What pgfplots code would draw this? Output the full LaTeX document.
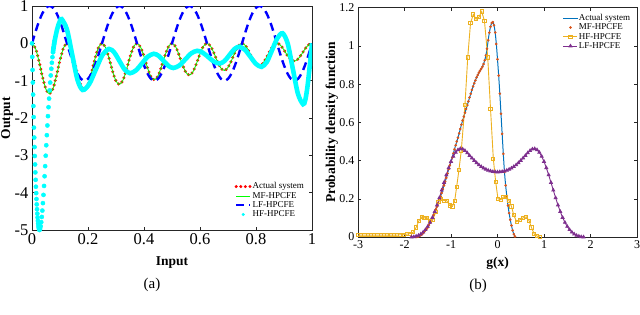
\documentclass[border=0pt]{standalone}
\usepackage{fontspec}
\setmainfont{Liberation Serif}
\usepackage{pgfplots}
\usepackage{pgfplotstable}
\pgfplotsset{compat=1.18}
\definecolor{mblue}{rgb}{0,0.447,0.741}
\definecolor{morange}{rgb}{0.85,0.325,0.098}
\definecolor{myellow}{rgb}{0.929,0.694,0.125}
\definecolor{mpurple}{rgb}{0.494,0.184,0.556}
\definecolor{axgray}{rgb}{0.15,0.15,0.15}
\definecolor{mcyan}{rgb}{0,1,1}
\definecolor{mgreen}{rgb}{0,1,0}
\definecolor{mred}{rgb}{1,0,0}
\definecolor{mbl}{rgb}{0,0,1}

\pgfplotstableread{
x act lf
0 0 0
0.0125 -0.1339 0.3090
0.025 -0.4800 0.5878
0.0375 -0.9011 0.8090
0.05 -1.2339 0.9511
0.0625 -1.3517 1
0.075 -1.2113 0.9511
0.0875 -0.8684 0.8090
0.1 -0.4540 0.5878
0.1125 -0.1243 0.3090
0.125 0 0
0.1375 -0.1219 -0.3090
0.15 -0.4368 -0.5878
0.1625 -0.8193 -0.8090
0.175 -1.1209 -0.9511
0.1875 -1.2267 -1
0.2 -1.0983 -0.9511
0.2125 -0.7865 -0.8090
0.225 -0.4109 -0.5878
0.2375 -0.1124 -0.3090
0.25 0 0
0.2625 -0.1100 0.3090
0.275 -0.3936 0.5878
0.2875 -0.7374 0.8090
0.3 -1.0078 0.9511
0.3125 -1.1017 1
0.325 -0.9852 0.9511
0.3375 -0.7047 0.8090
0.35 -0.3677 0.5878
0.3625 -0.1004 0.3090
0.375 0 0
0.3875 -0.0980 -0.3090
0.4 -0.3504 -0.5878
0.4125 -0.6556 -0.8090
0.425 -0.8948 -0.9511
0.4375 -0.9767 -1
0.45 -0.8721 -0.9511
0.4625 -0.6229 -0.8090
0.475 -0.3245 -0.5878
0.4875 -0.0885 -0.3090
0.5 0 0
0.5125 -0.0861 0.3090
0.525 -0.3072 0.5878
0.5375 -0.5738 0.8090
0.55 -0.7817 0.9511
0.5625 -0.8517 1
0.575 -0.7591 0.9511
0.5875 -0.5411 0.8090
0.6 -0.2813 0.5878
0.6125 -0.0766 0.3090
0.625 0 0
0.6375 -0.0742 -0.3090
0.65 -0.2640 -0.5878
0.6625 -0.4920 -0.8090
0.675 -0.6686 -0.9511
0.6875 -0.7267 -1
0.7 -0.6460 -0.9511
0.7125 -0.4593 -0.8090
0.725 -0.2381 -0.5878
0.7375 -0.0646 -0.3090
0.75 0 0
0.7625 -0.0622 0.3090
0.775 -0.2208 0.5878
0.7875 -0.4102 0.8090
0.8 -0.5556 0.9511
0.8125 -0.6017 1
0.825 -0.5329 0.9511
0.8375 -0.3775 0.8090
0.85 -0.1949 0.5878
0.8625 -0.0527 0.3090
0.875 0 0
0.8875 -0.0503 -0.3090
0.9 -0.1777 -0.5878
0.9125 -0.3284 -0.8090
0.925 -0.4425 -0.9511
0.9375 -0.4767 -1
0.95 -0.4199 -0.9511
0.9625 -0.2956 -0.8090
0.975 -0.1517 -0.5878
0.9875 -0.0407 -0.3090
1 0 0
}\lefttab

\pgfplotstableread{
x y
0 0
0.001 -0.364
0.002 -0.713
0.003 -1.049
0.004 -1.372
0.005 -1.680
0.006 -1.975
0.007 -2.257
0.008 -2.524
0.009 -2.778
0.010 -3.018
0.011 -3.244
0.012 -3.457
0.013 -3.656
0.014 -3.841
0.015 -4.012
0.016 -4.170
0.017 -4.314
0.018 -4.444
0.019 -4.561
0.020 -4.664
0.021 -4.753
0.022 -4.829
0.023 -4.890
0.024 -4.938
0.025 -4.973
0.026 -4.993
0.027 -5.000
0.029 -4.97
0.031 -4.90
0.033 -4.79
0.035 -4.65
0.037 -4.48
0.039 -4.28
0.041 -4.06
0.043 -3.82
0.045 -3.56
0.047 -3.29
0.049 -3.01
0.051 -2.73
0.053 -2.46
0.055 -2.20
0.057 -1.95
0.059 -1.71
0.061 -1.48
0.063 -1.26
0.065 -1.05
0.067 -0.86
0.069 -0.68
0.071 -0.52
0.073 -0.37
0.075 -0.24
0.077 -0.12
0.079 -0.02
0.081 0.07
}\hfdots

\pgfplotstableread{
x y
0.075 -0.24
0.079 -0.02
0.085 0.22
0.090 0.38
0.095 0.51
0.100 0.60
0.106 0.65
0.1248 0.372
0.1435 -0.300
0.1623 -0.972
0.181 -1.25
0.2045 -1.089
0.228 -0.70
0.2515 -0.311
0.275 -0.15
0.2938 -0.245
0.3125 -0.475
0.3313 -0.705
0.35 -0.80
0.3713 -0.724
0.3925 -0.54
0.4138 -0.356
0.435 -0.28
0.4525 -0.336
0.47 -0.47
0.4875 -0.604
0.505 -0.66
0.5263 -0.593
0.5475 -0.43
0.5688 -0.267
0.59 -0.20
0.61 -0.250
0.63 -0.37
0.65 -0.490
0.67 -0.54
0.6875 -0.474
0.705 -0.315
0.7225 -0.156
0.74 -0.09
0.76 -0.169
0.78 -0.36
0.80 -0.551
0.82 -0.63
0.8388 -0.498
0.8575 -0.18
0.8763 0.138
0.895 0.27
0.9133 -0.008
0.9315 -0.68
0.9498 -1.352
0.968 -1.63
0.976 -1.52
0.984 -1.15
0.992 -0.6
1.0 0.0
}\hfline

\pgfplotstableread{
x y
-1.750 0.000
-1.725 0.001
-1.700 0.003
-1.675 0.006
-1.650 0.010
-1.625 0.015
-1.600 0.020
-1.575 0.027
-1.550 0.035
-1.525 0.042
-1.500 0.050
-1.475 0.062
-1.450 0.075
-1.425 0.087
-1.400 0.100
-1.375 0.115
-1.350 0.130
-1.325 0.145
-1.300 0.160
-1.275 0.177
-1.250 0.195
-1.225 0.212
-1.200 0.230
-1.175 0.250
-1.150 0.270
-1.125 0.290
-1.100 0.310
-1.075 0.332
-1.050 0.355
-1.025 0.375
-1.000 0.395
-0.975 0.416
-0.950 0.438
-0.925 0.459
-0.900 0.480
-0.875 0.500
-0.850 0.520
-0.825 0.542
-0.800 0.565
-0.775 0.588
-0.750 0.610
-0.725 0.630
-0.700 0.650
-0.675 0.670
-0.650 0.690
-0.625 0.710
-0.600 0.730
-0.575 0.750
-0.550 0.770
-0.525 0.788
-0.500 0.805
-0.475 0.820
-0.450 0.835
-0.425 0.848
-0.400 0.860
-0.375 0.870
-0.350 0.880
-0.325 0.891
-0.300 0.905
-0.275 0.925
-0.250 0.950
-0.225 0.985
-0.200 1.030
-0.175 1.070
-0.150 1.100
-0.125 1.120
-0.100 1.125
-0.075 1.108
-0.050 1.070
-0.025 1.010
0.000 0.930
0.025 0.845
0.050 0.750
0.075 0.645
0.100 0.540
0.125 0.435
0.150 0.340
0.175 0.270
0.200 0.215
0.225 0.165
0.250 0.125
0.275 0.090
0.300 0.060
0.325 0.035
0.350 0.015
0.375 0.003
}\acttab

\pgfplotstableread{
x y
-3.00 0.01
-2.93 0.01
-2.86 0.01
-2.79 0.01
-2.72 0.01
-2.65 0.01
-2.58 0.01
-2.51 0.01
-2.44 0.01
-2.37 0.01
-2.30 0.01
-2.23 0.01
-2.16 0.01
-2.09 0.012
-2.02 0.012
-1.95 0.015
-1.88 0.018
-1.81 0.025
-1.75 0.05
-1.69 0.085
-1.63 0.105
-1.57 0.10
-1.51 0.10
-1.45 0.085
-1.39 0.09
-1.33 0.13
-1.27 0.185
-1.21 0.20
-1.15 0.19
-1.09 0.19
-1.03 0.165
-0.97 0.16
-0.92 0.19
-0.88 0.26
-0.83 0.35
-0.78 0.45
-0.70 0.69
-0.64 0.94
-0.58 1.12
-0.52 1.165
-0.46 1.14
-0.40 1.15
-0.34 1.18
-0.28 1.13
-0.21 0.94
-0.15 0.67
-0.09 0.41
-0.04 0.29
0.01 0.20
0.07 0.195
0.13 0.21
0.19 0.21
0.25 0.19
0.30 0.16
0.35 0.115
0.41 0.08
0.48 0.09
0.55 0.10
0.62 0.105
0.68 0.085
0.73 0.05
0.79 0.015
0.85 0.005
0.91 0.0
}\hftab

\pgfplotstableread{
x y
-1.85 0.000
-1.80 0.001
-1.75 0.004
-1.70 0.008
-1.65 0.015
-1.60 0.025
-1.55 0.038
-1.50 0.055
-1.45 0.076
-1.40 0.102
-1.35 0.133
-1.30 0.167
-1.25 0.205
-1.20 0.245
-1.15 0.285
-1.10 0.325
-1.05 0.362
-1.00 0.395
-0.95 0.422
-0.90 0.443
-0.85 0.456
-0.80 0.462
-0.75 0.460
-0.70 0.452
-0.65 0.440
-0.60 0.426
-0.55 0.413
-0.50 0.400
-0.45 0.388
-0.40 0.377
-0.35 0.368
-0.30 0.360
-0.25 0.354
-0.20 0.349
-0.15 0.345
-0.10 0.342
-0.05 0.341
0.00 0.340
0.05 0.341
0.10 0.342
0.15 0.345
0.20 0.349
0.25 0.354
0.30 0.360
0.35 0.368
0.40 0.377
0.45 0.388
0.50 0.400
0.55 0.413
0.60 0.426
0.65 0.440
0.70 0.452
0.75 0.460
0.80 0.462
0.85 0.456
0.90 0.443
0.95 0.422
1.00 0.395
1.05 0.362
1.10 0.325
1.15 0.285
1.20 0.245
1.25 0.205
1.30 0.167
1.35 0.133
1.40 0.102
1.45 0.076
1.50 0.055
1.55 0.038
1.60 0.025
1.65 0.015
1.70 0.008
1.75 0.004
1.80 0.001
1.85 0.000
}\lftab

\pgfplotsset{
  matlab/.style={
    scale only axis,
    axis line style={axgray, line width=0.5pt},
    every tick/.style={axgray, line width=0.5pt},
    tick align=inside,
    major tick length=3pt,
    /pgf/number format/assume math mode=true,
    legend cell align=left,
    legend image code/.code={\draw[mark repeat=2,mark phase=2,##1] plot coordinates {(0pt,0pt) (7pt,0pt) (14pt,0pt)};},
  }
}

\begin{document}
\begin{tikzpicture}
\useasboundingbox (0pt,0pt) rectangle (640pt,314pt);

\begin{axis}[matlab,
  at={(32pt,84pt)}, anchor=south west,
  width=280pt, height=224pt,
  xmin=0, xmax=1, ymin=-5, ymax=1,
  xtick={0,0.2,0.4,0.6,0.8,1}, ytick={-5,-4,-3,-2,-1,0,1},
  tick label style={font=\fontsize{16.5}{16.5}\selectfont},
  xlabel={\textbf{Input}}, ylabel={\textbf{Output}},
  label style={font=\fontsize{13.5}{14}\selectfont},
  xlabel style={at={(axis description cs:0.5,-0.143)}, anchor=center},
  ylabel style={at={(axis description cs:-0.089,0.5)}, anchor=center},
  legend style={at={(0.986,0.225)}, anchor=north east, draw=none, fill=none,
    font=\fontsize{9}{10}\selectfont, nodes={inner sep=0.9pt}},
]
\addplot[mred, line width=3.3pt, line cap=round, dash pattern=on 0pt off 4.6pt, smooth] table[x=x,y=act] {\lefttab};
\addlegendentry{Actual system}
\addplot[mgreen, line width=0.8pt, smooth] table[x=x,y=act] {\lefttab};
\addlegendentry{MF-HPCFE}
\addplot[mbl, line width=2.4pt, dash pattern=on 8pt off 5pt, smooth] table[x=x,y=lf] {\lefttab};
\addlegendentry{LF-HPCFE}
\addplot[mcyan, only marks, mark=*, mark size=2.1pt, legend image post style={mark size=1.4pt}] table {\hfdots};
\addlegendentry{HF-HPCFE}
\addplot[mcyan, line width=4.6pt, smooth, forget plot] table {\hfline};
\end{axis}

\begin{axis}[matlab,
  at={(358pt,77pt)}, anchor=south west,
  width=279pt, height=229.3pt,
  xmin=-3, xmax=3, ymin=0, ymax=1.2,
  xtick={-3,-2,-1,0,1,2,3}, ytick={0,0.2,0.4,0.6,0.8,1,1.2},
  tick label style={font=\fontsize{12}{12}\selectfont},
  xlabel={\textbf{g(x)}}, ylabel={\textbf{Probability density function}},
  label style={font=\fontsize{13.5}{14}\selectfont},
  xlabel style={at={(axis description cs:0.5,-0.113)}, anchor=center},
  ylabel style={at={(axis description cs:-0.094,0.5)}, anchor=center},
  legend style={at={(0.99,0.985)}, anchor=north east, draw=none, fill=none,
    font=\fontsize{9}{10}\selectfont, nodes={inner sep=0.9pt}},
]
\addplot[mblue, line width=1pt, smooth] table {\acttab};
\addlegendentry{Actual system}
\addplot[morange, only marks, mark=*, mark size=1.1pt] table {\acttab};
\addlegendentry{MF-HPCFE}
\addplot[myellow, line width=0.9pt, mark=square, mark size=1.6pt] table {\hftab};
\addlegendentry{HF-HPCFE}
\addplot[mpurple, line width=0.9pt, mark=triangle*, mark size=1.6pt] table {\lftab};
\addlegendentry{LF-HPCFE}
\end{axis}

\node at (152pt,29pt) {\fontsize{15}{15}\selectfont (a)};
\node at (478pt,28pt) {\fontsize{15}{15}\selectfont (b)};
\end{tikzpicture}
\end{document}
